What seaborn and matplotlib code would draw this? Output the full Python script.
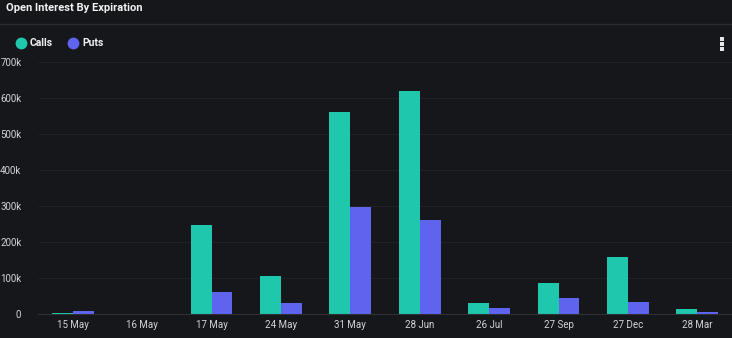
import matplotlib
matplotlib.use("Agg")
import matplotlib.pyplot as plt
from matplotlib.lines import Line2D
import seaborn as sns
import pandas as pd

# Open interest per expiration date
expirations = ["15 May", "16 May", "17 May", "24 May", "31 May",
               "28 Jun", "26 Jul", "27 Sep", "27 Dec", "28 Mar"]
calls = [2000, 0, 247000, 105000, 562000, 619000, 29000, 85000, 156000, 12000]
puts = [7000, 0, 61000, 29000, 296000, 261000, 15000, 43000, 32000, 5000]
series_names = ["Calls", "Puts"]
y_ticks = [0, 100000, 200000, 300000, 400000, 500000, 600000, 700000]
y_tick_labels = ["0", "100k", "200k", "300k", "400k", "500k", "600k", "700k"]

BG = "#16171b"
CALL_COLOR = "#1fc8ad"
PUT_COLOR = "#5f64ef"
TEXT = "#d4d4d6"

df = pd.DataFrame({
    "expiration": expirations * 2,
    "open_interest": calls + puts,
    "type": [series_names[0]] * len(calls) + [series_names[1]] * len(puts),
})

sns.set_theme(style="dark")
plt.rcParams["font.family"] = ["Roboto", "DejaVu Sans"]

fig = plt.figure(figsize=(7.32, 3.38), dpi=100, facecolor=BG)
ax = fig.add_axes([38 / 732, 24.5 / 338, (732 - 38) / 732, (313.5 - 62) / 338])
ax.set_facecolor(BG)

sns.barplot(data=df, x="expiration", y="open_interest", hue="type",
            order=expirations, hue_order=series_names,
            palette=[CALL_COLOR, PUT_COLOR], width=0.6, saturation=1,
            legend=False, ax=ax, linewidth=0)

ax.set_ylim(0, 700000)
ax.set_xlim(-0.5, len(expirations) - 0.5)
ax.set_yticks(y_ticks)
ax.set_yticklabels(y_tick_labels)
ax.set_xlabel("")
ax.set_ylabel("")
ax.tick_params(axis="both", length=0, colors=TEXT, labelsize=7)
ax.tick_params(axis="y", pad=12)
ax.tick_params(axis="x", pad=5)
ax.grid(axis="y", color="#202125", linewidth=0.8)
ax.grid(axis="x", visible=False)
ax.set_axisbelow(True)
for side in ["top", "right", "left"]:
    ax.spines[side].set_visible(False)
ax.spines["bottom"].set_color("#303137")
ax.spines["bottom"].set_linewidth(0.8)

# Header
fig.text(6 / 732, 1 - 8 / 338, "Open Interest By Expiration", color="#f2f2f2",
         fontsize=8, fontweight="bold", va="center", ha="left")
fig.add_artist(Line2D([0, 1], [1 - 23.5 / 338, 1 - 23.5 / 338],
                      transform=fig.transFigure, color="#2b2c31", linewidth=1))

# Legend
handles = [Line2D([], [], marker="o", linestyle="", markersize=8.5,
                  markerfacecolor=c, markeredgewidth=0)
           for c in (CALL_COLOR, PUT_COLOR)]
fig.legend(handles, series_names, loc="center left",
           bbox_to_anchor=(7 / 732, 1 - 43.5 / 338), ncol=2, frameon=False,
           handlelength=0.8, handletextpad=0.5, columnspacing=1.5,
           labelcolor="#f0f0f0", prop={"size": 7.5, "weight": "bold"})

# Menu icon
for dy in (39, 44, 49):
    fig.add_artist(Line2D([722 / 732], [1 - dy / 338], transform=fig.transFigure,
                          marker="s", markersize=2.3, color="#e6e6e6",
                          markeredgewidth=0, linestyle=""))

fig.savefig("out.png", dpi=100, facecolor=BG)
